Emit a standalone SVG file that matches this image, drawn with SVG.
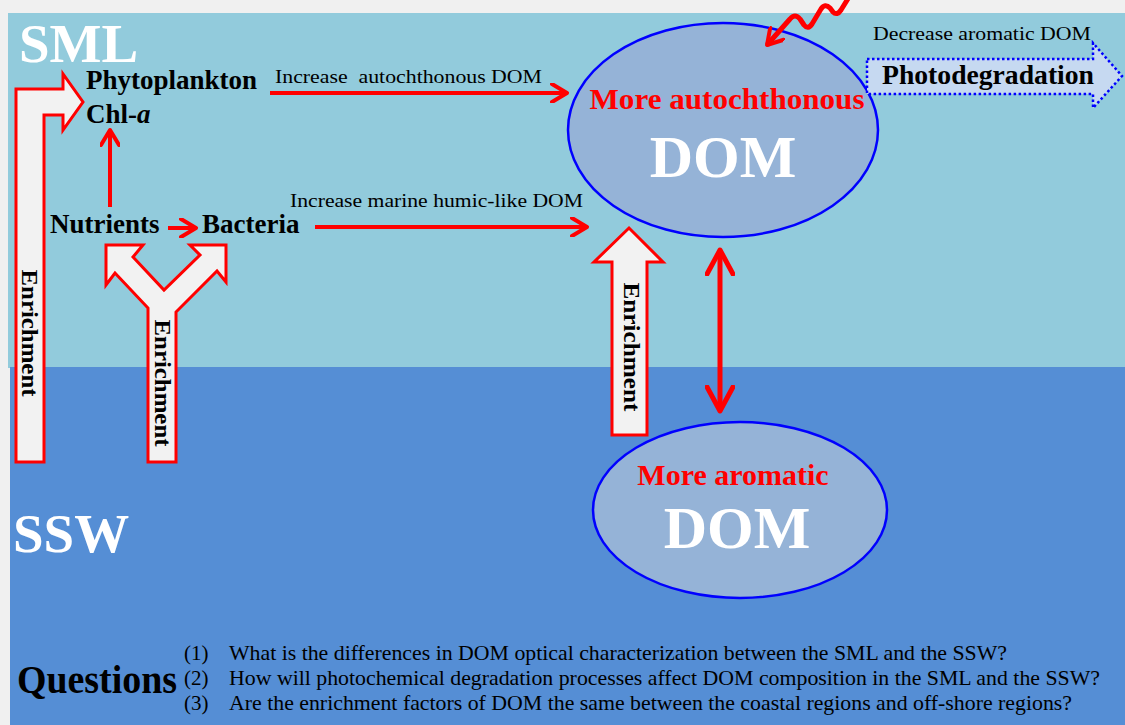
<svg xmlns="http://www.w3.org/2000/svg" width="1125" height="725" viewBox="0 0 1125 725">
<style>
.serif{font-family:"Liberation Serif","Times New Roman",serif}
.lbl{font-family:"Liberation Serif","Times New Roman",serif;font-weight:bold;font-size:27px;fill:#000}
.small{font-family:"Liberation Serif","Times New Roman",serif;font-size:19px;fill:#000}
.q{font-family:"Liberation Serif","Times New Roman",serif;font-size:21px;fill:#000}
.enr{font-family:"Liberation Serif","Times New Roman",serif;font-weight:bold;font-size:24px;fill:#000}
.block{fill:#F2F2F2;stroke:#FF0000;stroke-width:3;stroke-linejoin:miter}
.red{stroke:#FF0000;stroke-width:4;fill:none}
.ell{fill:#95B3D7;stroke:#0000FF;stroke-width:2.5}
.redt{font-family:"Liberation Serif","Times New Roman",serif;font-weight:bold;font-size:30px;fill:#FF0000}
.dom{font-family:"Liberation Serif","Times New Roman",serif;font-weight:bold;font-size:60px;fill:#FFFFFF}
.zone{font-family:"Liberation Serif","Times New Roman",serif;font-weight:bold;font-size:55px;fill:#FFFFFF}
</style>
<defs>
<marker id="chev" viewBox="0 0 20 20" refX="17" refY="10" markerWidth="20" markerHeight="20" markerUnits="userSpaceOnUse" orient="auto-start-reverse">
<path d="M2,1 L17,10 L2,19" fill="none" stroke="#FF0000" stroke-width="4" stroke-linecap="round" stroke-linejoin="round"/>
</marker>
<marker id="chevBig" viewBox="0 0 30 30" refX="26" refY="15" markerWidth="30" markerHeight="30" markerUnits="userSpaceOnUse" orient="auto-start-reverse">
<path d="M2,2 L26,15 L2,28" fill="none" stroke="#FF0000" stroke-width="5" stroke-linecap="round" stroke-linejoin="round"/>
</marker>
</defs>

<g id="background">
<rect x="0" y="0" width="1125" height="725" fill="#F0F0F0"/>
<rect x="8" y="13" width="1117" height="355" fill="#92CBDC"/>
<rect x="10" y="367" width="1115" height="358" fill="#558ED5"/>
</g>

<g id="zone-labels">
<text class="zone" x="19" y="62">SML</text>
<text class="zone" x="13" y="552">SSW</text>
</g>

<g id="enrichment-left">
<polygon class="block" points="16,462 16,89 63,89 63,74 83,102 63,130 63,115 44,115 44,462"/>
<text class="enr" transform="translate(30,333) rotate(90)" text-anchor="middle" dominant-baseline="central" textLength="127" lengthAdjust="spacingAndGlyphs">Enrichment</text>
</g>

<g id="enrichment-y">
<polygon class="block" points="148,462 148,308 115,273 106,285 106,245 143,245 133,257 164,290 200,255 190,245 226,245 226,282 217,271 176,312 176,462"/>
<text class="enr" transform="translate(163,383) rotate(90)" text-anchor="middle" dominant-baseline="central" textLength="127" lengthAdjust="spacingAndGlyphs">Enrichment</text>
</g>

<g id="enrichment-right">
<polygon class="block" points="612,435 612,262 594,262 629,228 663,262 647,262 647,435"/>
<text class="enr" transform="translate(632,347) rotate(90)" text-anchor="middle" dominant-baseline="central" textLength="129" lengthAdjust="spacingAndGlyphs">Enrichment</text>
</g>

<g id="phytoplankton">
<text class="lbl" x="86" y="89">Phytoplankton</text>
<text class="lbl" x="86" y="123">Chl-<tspan font-style="italic">a</tspan></text>
</g>

<g id="nutrients">
<text class="lbl" x="50" y="233">Nutrients</text>
</g>

<g id="bacteria">
<text class="lbl" x="202" y="233">Bacteria</text>
</g>

<g id="dom-sml">
<ellipse class="ell" cx="723" cy="130" rx="155" ry="107"/>
<text class="redt" x="727" y="109" text-anchor="middle" textLength="275" lengthAdjust="spacingAndGlyphs">More autochthonous</text>
<text class="dom" x="723" y="177" text-anchor="middle">DOM</text>
</g>

<g id="dom-ssw">
<ellipse class="ell" cx="740" cy="510" rx="147" ry="88"/>
<text class="redt" x="733" y="485" text-anchor="middle">More aromatic</text>
<text class="dom" x="737" y="548" text-anchor="middle">DOM</text>
</g>

<g id="photodegradation">
<polygon points="867,59 1093,59 1093,43 1122,76 1093,108 1093,94 867,94" fill="#C6D9F1" stroke="#0000FF" stroke-width="2.5" stroke-dasharray="2.5 2.5"/>
<text class="small" x="873" y="40" textLength="218" lengthAdjust="spacingAndGlyphs">Decrease aromatic DOM</text>
<text class="serif" x="882" y="84" font-weight="bold" font-size="27" fill="#000" textLength="212" lengthAdjust="spacingAndGlyphs">Photodegradation</text>
</g>

<g id="connectors">
<line class="red" x1="270" y1="93" x2="567" y2="93" marker-end="url(#chev)"/>
<text class="small" x="275" y="83" xml:space="preserve" textLength="267" lengthAdjust="spacingAndGlyphs">Increase  autochthonous DOM</text>
<line class="red" x1="315" y1="227" x2="587" y2="227" marker-end="url(#chev)"/>
<text class="small" x="290" y="207" textLength="293" lengthAdjust="spacingAndGlyphs">Increase marine humic-like DOM</text>
<line class="red" x1="110" y1="207" x2="110" y2="130" marker-end="url(#chev)"/>
<line class="red" x1="168" y1="228" x2="196" y2="228" marker-end="url(#chev)"/>
<line x1="720" y1="250" x2="720" y2="411" stroke="#FF0000" stroke-width="5" marker-start="url(#chevBig)" marker-end="url(#chevBig)"/>
<path d="M 767,45 L 790,19 Q 795,13 800,19 L 804,25 Q 808,30 812,24 L 821,9 Q 825,3 830,8 L 833,12 Q 837,16 841,10 L 849,-3" fill="none" stroke="#FF0000" stroke-width="5" stroke-linejoin="round" marker-start="url(#chev)"/>
</g>

<g id="questions">
<text class="serif" x="17" y="693" font-weight="bold" font-size="40" fill="#000" textLength="160" lengthAdjust="spacingAndGlyphs">Questions</text>
<text class="q" x="184" y="660">(1)</text>
<text class="q" x="229" y="660" textLength="778" lengthAdjust="spacingAndGlyphs">What is the differences in DOM optical characterization between the SML and the SSW?</text>
<text class="q" x="184" y="685">(2)</text>
<text class="q" x="229" y="685" textLength="871" lengthAdjust="spacingAndGlyphs">How will photochemical degradation processes affect DOM composition in the SML and the SSW?</text>
<text class="q" x="184" y="710">(3)</text>
<text class="q" x="229" y="710" textLength="843" lengthAdjust="spacingAndGlyphs">Are the enrichment factors of DOM the same between the coastal regions and off-shore regions?</text>
</g>
</svg>
